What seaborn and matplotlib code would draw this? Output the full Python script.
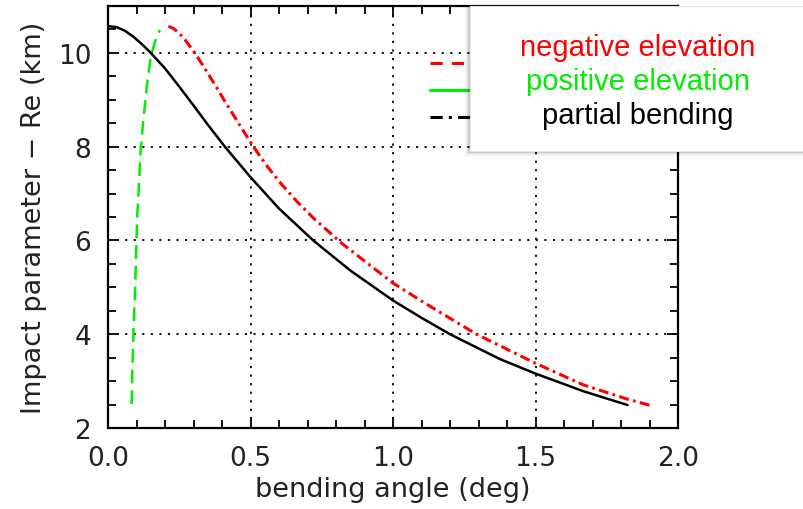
import matplotlib
matplotlib.use("Agg")
import matplotlib.pyplot as plt
import seaborn as sns
from matplotlib.lines import Line2D
from matplotlib.patches import Rectangle
from matplotlib.ticker import MultipleLocator, FormatStrFormatter

# Bending angle (deg) vs impact parameter minus Earth radius (km)
partial_angle = [0.0, 0.03, 0.06, 0.09, 0.12, 0.15, 0.20, 0.25, 0.30, 0.35, 0.41,
                 0.50, 0.60, 0.72, 0.85, 1.00, 1.10, 1.20, 1.375, 1.50, 1.67, 1.823]
partial_height = [10.57, 10.55, 10.47, 10.34, 10.18, 10.0, 9.67, 9.28, 8.88, 8.47, 8.0,
                  7.35, 6.68, 6.0, 5.36, 4.72, 4.35, 4.0, 3.47, 3.16, 2.78, 2.49]

negative_angle = [0.212, 0.23, 0.25, 0.27, 0.29, 0.31, 0.36, 0.41, 0.46, 0.51, 0.56,
                  0.61, 0.66, 0.72, 0.82, 1.00, 1.118, 1.293, 1.50, 1.668, 1.82, 1.91]
negative_height = [10.57, 10.52, 10.42, 10.28, 10.12, 9.95, 9.47, 8.97, 8.48, 8.0, 7.57,
                   7.19, 6.85, 6.48, 5.94, 5.09, 4.64, 4.0, 3.38, 2.92, 2.62, 2.47]

positive_angle = [0.083, 0.085, 0.089, 0.095, 0.100, 0.103, 0.106, 0.114, 0.124,
                  0.136, 0.150, 0.165, 0.182]
positive_height = [2.51, 3.11, 4.0, 4.96, 5.99, 6.59, 6.87, 7.87, 8.57,
                   9.28, 9.92, 10.24, 10.49]

legend_labels = ["negative elevation", "positive elevation", "partial bending"]
legend_colors = ["#ff0000", "#00ee00", "#000000"]

sns.set_style("ticks")
plt.rcParams["font.family"] = ["DejaVu Sans"]
plt.rcParams["lines.solid_joinstyle"] = "round"
plt.rcParams["lines.dash_joinstyle"] = "round"

fig = plt.figure(figsize=(8.04, 5.10), dpi=100)
ax = fig.add_axes([108 / 804, 1 - 429 / 510, 570 / 804, 422 / 510])

sns.lineplot(x=partial_angle, y=partial_height, ax=ax, sort=False,
             color="black", lw=1.8, estimator=None)
sns.lineplot(x=negative_angle, y=negative_height, ax=ax, sort=False,
             color="#ff0000", lw=2.2, estimator=None, linestyle=(0, (3.3, 1.4, 0.9, 1.4)))
sns.lineplot(x=positive_angle, y=positive_height, ax=ax, sort=False,
             color="#00ee00", lw=1.8, estimator=None, linestyle=(0, (5.5, 2.8)))

ax.set_xlim(0, 2.0)
ax.set_ylim(2, 11)
ax.xaxis.set_major_locator(MultipleLocator(0.5))
ax.xaxis.set_minor_locator(MultipleLocator(0.1))
ax.yaxis.set_major_locator(MultipleLocator(2))
ax.yaxis.set_minor_locator(MultipleLocator(0.5))
ax.xaxis.set_major_formatter(FormatStrFormatter("%.1f"))
ax.yaxis.set_major_formatter(FormatStrFormatter("%d"))

ax.grid(True, which="major", color="#111111", linestyle=(0, (1.1, 3.3)), lw=1.4)
for s in ax.spines.values():
    s.set_visible(True)
    s.set_linewidth(1.6)
    s.set_color("black")
ax.tick_params(which="both", direction="in", top=True, right=True, width=1.3, colors="black")
ax.tick_params(which="major", length=8, labelsize=19, pad=12)
ax.tick_params(which="minor", length=6)
for lab in ax.get_xticklabels() + ax.get_yticklabels():
    lab.set_color("#222222")

ax.set_xlabel("bending angle (deg)", fontsize=19.5, color="#222222", labelpad=4)
ax.set_ylabel("Impact parameter \u2212 Re (km)", fontsize=19.5, color="#222222", labelpad=8)

# Key line samples inside the axes
handles = [
    Line2D([], [], color="#ff0000", lw=2.2, linestyle=(0, (4, 3))),
    Line2D([], [], color="#00ee00", lw=2.2, linestyle="-"),
    Line2D([], [], color="black", lw=2.2, linestyle=(0, (4, 2, 1, 2))),
]
ax.legend(handles, ["", "", ""], loc="upper left", bbox_to_anchor=(312 / 570, 1 - 39 / 422),
          frameon=False, handlelength=2.1, handletextpad=0, labelspacing=0.42,
          fontsize=14, borderpad=0)

# Text box with soft shadow
for i, a in enumerate([0.05, 0.07, 0.09]):
    off = (3 - i) * 1.5
    fig.patches.append(Rectangle(((470 - off) / 804, 1 - (152 + off) / 510),
                                 (334 + off) / 804, (145 + off) / 510,
                                 transform=fig.transFigure, facecolor="black",
                                 edgecolor="none", alpha=a, zorder=5))
fig.patches.append(Rectangle((470 / 804, 1 - 152 / 510), 334 / 804, 145 / 510,
                             transform=fig.transFigure, facecolor="white",
                             edgecolor="#e6e6e6", lw=0.8, zorder=6))
for lab, col, y in zip(legend_labels, legend_colors, [48, 82, 116]):
    fig.text(638 / 804, 1 - y / 510, lab, color=col, fontsize=21,
             family=["Liberation Sans", "DejaVu Sans"], ha="center", va="center", zorder=7)

fig.savefig("out.png", dpi=100)
